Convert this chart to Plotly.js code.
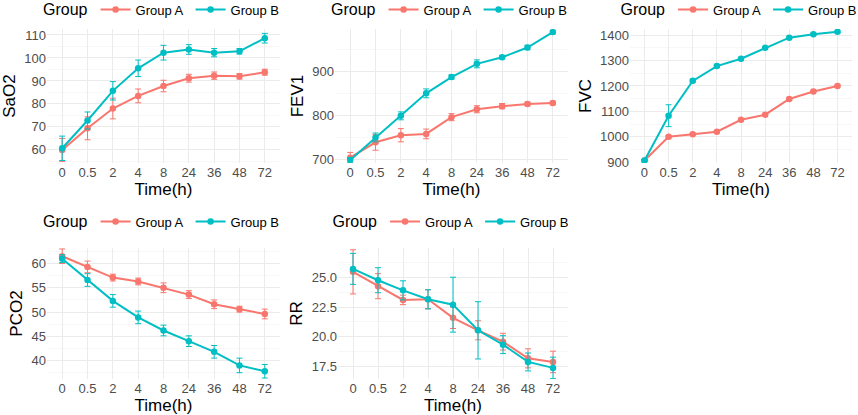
<!DOCTYPE html>
<html>
<head>
<meta charset="utf-8">
<script src="https://cdn.plot.ly/plotly-3.0.1.min.js"></script>
<style>html,body{margin:0;padding:0;background:#fff;}#chart{width:858px;height:415px;}</style>
</head>
<body>
<div id="chart"></div>
<script>
const times = ['0','0.5','2','4','8','24','36','48','72'];
const groups = ['Group A','Group B'];

const sao2A = [60, 69.4, 78, 83.5, 87.8, 91.2, 92.3, 92.0, 93.8];
const sao2AErr = [5, 5, 4.5, 3, 2.5, 1.7, 1.6, 1.2, 1.3];
const sao2B = [60.7, 72.8, 85.7, 95.5, 102.3, 103.7, 102.3, 102.9, 108.6];
const sao2BErr = [5.3, 3.7, 4, 3.6, 3.2, 2.1, 1.8, 1.2, 2.1];

const fev1A = [705, 740, 756, 759, 797, 815, 822, 827, 829];
const fev1AErr = [12, 18, 15, 11, 8, 8, 6, 4, 4];
const fev1B = [700, 751, 800, 851, 888, 918, 933, 955, 990];
const fev1BErr = [5, 10, 9, 10, 5, 9, 4, 5, 4];

const fvcA = [907, 1000, 1010, 1020, 1067, 1087, 1149, 1178, 1200];
const fvcAErr = [4, 5, 4, 4, 4, 4, 4, 4, 4];
const fvcB = [907, 1083, 1220, 1278, 1307, 1350, 1390, 1403, 1413];
const fvcBErr = [4, 43, 5, 5, 4, 4, 4, 4, 4];

const pco2A = [61.5, 59.3, 57.1, 56.3, 55.0, 53.6, 51.6, 50.6, 49.6];
const pco2AErr = [1.5, 1.2, 0.7, 0.7, 1.0, 0.8, 0.9, 0.6, 1.0];
const pco2B = [61.0, 56.6, 52.3, 48.9, 46.2, 44.0, 41.8, 39.0, 37.8];
const pco2BErr = [0.8, 1.3, 1.3, 1.3, 1.1, 1.1, 1.3, 1.5, 1.4];

const rrA = [25.45, 24.25, 23.1, 23.15, 21.6, 20.55, 19.6, 18.2, 17.9];
const rrAErr = [1.85, 1.05, 0.4, 0.8, 0.9, 0.8, 0.7, 0.8, 0.9];
const rrB = [25.7, 24.75, 23.9, 23.15, 22.7, 20.55, 19.35, 17.9, 17.4];
const rrBErr = [1.3, 1.05, 0.8, 0.8, 2.3, 2.4, 0.75, 0.75, 0.9];

const panels = [
  {name:'SaO2', a:sao2A, ae:sao2AErr, b:sao2B, be:sao2BErr, range:[54.3,112.6], dtick:10, fmt:'', x:[47,280], y:[29,163]},
  {name:'FEV1', a:fev1A, ae:fev1AErr, b:fev1B, be:fev1BErr, range:[693,997], dtick:100, fmt:'', x:[335,568], y:[29,163]},
  {name:'FVC', a:fvcA, ae:fvcAErr, b:fvcB, be:fvcBErr, range:[897,1424], dtick:100, fmt:'', x:[630,852], y:[29,163]},
  {name:'PCO2', a:pco2A, ae:pco2AErr, b:pco2B, be:pco2BErr, range:[36.2,63.2], dtick:5, fmt:'', x:[47,280], y:[248,379]},
  {name:'RR', a:rrA, ae:rrAErr, b:rrB, be:rrBErr, range:[16.47,27.45], dtick:2.5, fmt:'.1f', x:[338,568], y:[248,379]}
];

const W = 858, H = 415;
const colA = '#F8766D', colB = '#00BFC4';
const FONT = 'Liberation Sans, Arial, sans-serif';
const traces = [];
const layout = {
  width: W, height: H,
  margin: {l:0, r:0, t:0, b:0, autoexpand: false},
  paper_bgcolor: '#fff', plot_bgcolor: '#fff',
  font: {family: FONT, color: '#000'},
  showlegend: true
};

panels.forEach((p, i) => {
  const n = i === 0 ? '' : String(i + 1);
  const xa = 'x' + n, ya = 'y' + n;
  const lg = 'legend' + n;
  [[p.a, p.ae, colA, groups[0]], [p.b, p.be, colB, groups[1]]].forEach(([vals, errs, col, g]) => {
    traces.push({
      type: 'scatter', mode: 'lines+markers',
      x: times, y: vals, name: g,
      xaxis: xa, yaxis: ya, legend: lg,
      line: {color: col, width: 2},
      marker: {color: col, size: 6.5},
      error_y: {type: 'data', array: errs, visible: true, color: col, thickness: 1, width: 3},
      hoverinfo: 'x+y+name'
    });
  });
  const xdom = [p.x[0] / W, p.x[1] / W];
  const ydom = [1 - p.y[1] / H, 1 - p.y[0] / H];
  layout['xaxis' + n] = {
    domain: xdom, anchor: ya, type: 'category',
    categoryorder: 'array', categoryarray: times,
    range: [-0.6, 8.6], showgrid: true, gridcolor: '#EBEBEB', gridwidth: 1,
    zeroline: false, showline: false, ticks: '',
    tickfont: {size: 13, color: '#4D4D4D', family: FONT},
    title: {text: 'Time(h)', font: {size: 17, color: '#000', family: FONT}, standoff: 2},
    automargin: false, fixedrange: true
  };
  layout['yaxis' + n] = {
    domain: ydom, anchor: xa, range: p.range, dtick: p.dtick, tickformat: p.fmt,
    showgrid: true, gridcolor: '#EBEBEB', gridwidth: 1,
    minor: {dtick: p.dtick / 2, showgrid: true, gridcolor: '#F3F3F3', gridwidth: 0.7},
    zeroline: false, showline: false, ticks: '',
    tickfont: {size: 13, color: '#4D4D4D', family: FONT},
    title: {text: p.name, font: {size: 17, color: '#000', family: FONT}, standoff: 4},
    automargin: false, fixedrange: true
  };
  const legY = i < 3 ? 10 : 222;
  layout[lg] = {
    orientation: 'h', x: (p.x[0] + p.x[1]) / 2 / W, xanchor: 'center',
    y: 1 - legY / H, yanchor: 'middle',
    title: {text: 'Group', font: {size: 16, color: '#000', family: FONT}, side: 'left'},
    font: {size: 13, color: '#000', family: FONT},
    bgcolor: 'rgba(0,0,0,0)', itemwidth: 30, tracegroupgap: 0,
    entrywidth: 50, entrywidthmode: 'pixels'
  };
});

Plotly.newPlot('chart', traces, layout, {displayModeBar: false, staticPlot: true});
</script>
</body>
</html>
